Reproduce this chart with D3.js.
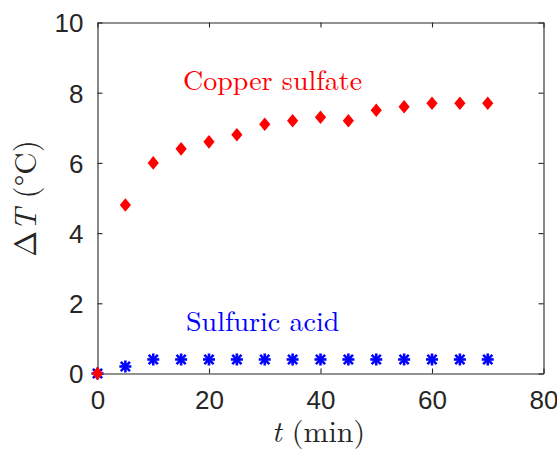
<!DOCTYPE html>
<html>
<head>
<meta charset="utf-8">
<script src="https://cdn.jsdelivr.net/npm/d3@7"></script>
<style>
  body { margin: 0; background: #fff; }
  svg { display: block; }
</style>
</head>
<body>
<script>
// time points (min)
var times = [0, 5, 10, 15, 20, 25, 30, 35, 40, 45, 50, 55, 60, 65, 70];
// temperature rise (degC)
var copperSulfate = [0, 4.8, 6.0, 6.4, 6.6, 6.8, 7.1, 7.2, 7.3, 7.2, 7.5, 7.6, 7.7, 7.7, 7.7];
var sulfuricAcid = [0, 0.2, 0.4, 0.4, 0.4, 0.4, 0.4, 0.4, 0.4, 0.4, 0.4, 0.4, 0.4, 0.4, 0.4];
var xTicks = [0, 20, 40, 60, 80];
var yTicks = [0, 2, 4, 6, 8, 10];

var W = 557, H = 452;
var box = { left: 97.5, right: 543.5, top: 22.5, bottom: 373.5 };
var axisColor = "#262626";
var tickFont = "Liberation Sans, Arial, Helvetica, sans-serif";
var texFont = "Latin Modern Roman, Liberation Serif, serif";

var svg = d3.select("body").append("svg").attr("width", W).attr("height", H);

var x = d3.scaleLinear().domain([0, 80]).range([box.left, box.right]);
var y = d3.scaleLinear().domain([0, 10]).range([box.bottom, box.top]);

// axes: ticks point inward, box drawn on all four sides
var tickLen = 5;
var bottomAxis = d3.axisBottom(x).tickValues(xTicks).tickSizeInner(-tickLen).tickSizeOuter(0).tickPadding(17);
var topAxis = d3.axisTop(x).tickValues(xTicks).tickSizeInner(-tickLen).tickSizeOuter(0).tickFormat("");
var leftAxis = d3.axisLeft(y).tickValues(yTicks).tickSizeInner(-tickLen).tickSizeOuter(0).tickPadding(14);
var rightAxis = d3.axisRight(y).tickValues(yTicks).tickSizeInner(-tickLen).tickSizeOuter(0).tickFormat("");

function styleAxis(g) {
    g.select(".domain").attr("stroke", axisColor).attr("stroke-width", 1.1);
    g.selectAll(".tick line").attr("stroke", axisColor).attr("stroke-width", 1.1);
    g.selectAll(".tick text").attr("fill", axisColor)
        .attr("font-family", tickFont).attr("font-size", 26);
}

svg.append("g").attr("transform", "translate(0," + box.bottom + ")").call(bottomAxis).call(styleAxis);
svg.append("g").attr("transform", "translate(0," + box.top + ")").call(topAxis).call(styleAxis);
svg.append("g").attr("transform", "translate(" + box.left + ",0)").call(leftAxis).call(styleAxis)
    .selectAll(".tick text").attr("dy", "0.36em");
svg.append("g").attr("transform", "translate(" + box.right + ",0)").call(rightAxis).call(styleAxis);

// sulfuric acid: blue asterisks (drawn first so red sits on top at t=0)
var star = svg.append("g").selectAll("g")
    .data(times.map(function (t, i) { return [t, sulfuricAcid[i]]; }))
    .enter().append("g")
    .attr("transform", function (d) { return "translate(" + x(d[0]) + "," + y(d[1]) + ")"; })
    .attr("stroke", "#0000ff").attr("stroke-width", 2.6).attr("stroke-linecap", "butt");
var r = 6, rd = 4.6;
star.append("line").attr("x1", -r).attr("x2", r).attr("y1", 0).attr("y2", 0);
star.append("line").attr("x1", 0).attr("x2", 0).attr("y1", -r).attr("y2", r);
star.append("line").attr("x1", -rd).attr("x2", rd).attr("y1", -rd).attr("y2", rd);
star.append("line").attr("x1", -rd).attr("x2", rd).attr("y1", rd).attr("y2", -rd);

// copper sulfate: red diamonds
svg.append("g").selectAll("path")
    .data(times.map(function (t, i) { return [t, copperSulfate[i]]; }))
    .enter().append("path")
    .attr("d", "M0,-6.8L5.6,0L0,6.8L-5.6,0Z")
    .attr("transform", function (d) { return "translate(" + x(d[0]) + "," + y(d[1]) + ")"; })
    .attr("fill", "#ff0000");

// in-plot labels (LaTeX-looking text)
svg.append("text").attr("x", 183).attr("y", 90)
    .attr("font-family", texFont).attr("font-size", 28).attr("fill", "#ff0000")
    .text("Copper sulfate");
svg.append("text").attr("x", 186).attr("y", 331)
    .attr("font-family", texFont).attr("font-size", 28).attr("fill", "#0000ff")
    .text("Sulfuric acid");

// axis titles
var xl = svg.append("text").attr("x", 318.5).attr("y", 442)
    .attr("text-anchor", "middle").attr("fill", axisColor)
    .attr("font-family", texFont).attr("font-size", 30);
xl.append("tspan").attr("font-style", "italic").text("t");
xl.append("tspan").text(" (min)");

var yl = svg.append("text")
    .attr("transform", "translate(36,198.5) rotate(-90)")
    .attr("text-anchor", "middle").attr("fill", axisColor)
    .attr("font-family", texFont).attr("font-size", 31);
yl.append("tspan").text("Δ");
yl.append("tspan").attr("font-style", "italic").text("T");
yl.append("tspan").text(" (°C)");
</script>
</body>
</html>
